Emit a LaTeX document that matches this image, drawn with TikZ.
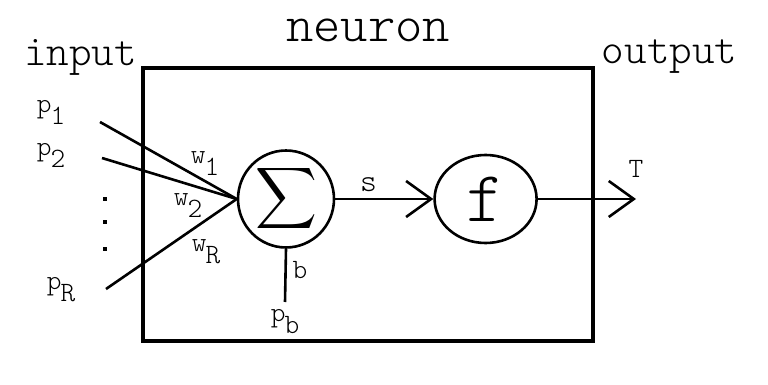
\documentclass[tikz,border=0pt]{standalone}
\usepackage{fontspec}
\setmonofont{Latin Modern Mono Light}
\usetikzlibrary{arrows.meta,positioning,shapes.geometric}
\newcommand{\lowidx}[1]{\kern-1pt\raisebox{-12pt}{#1}}

\begin{document}
\begin{tikzpicture}[
    x=1pt, y=-1pt,
    font=\ttfamily,
    unit/.style={
        ellipse,
        draw=black,
        line width=2.6pt,
        inner sep=0pt
    },
    wire/.style={line width=2.6pt, draw=black},
    arrow/.style={wire, -{Straight Barb[length=25pt,width=36pt,line width=2.6pt]}},
    label/.style={inner sep=0pt, font=\ttfamily\fontsize{28}{28}\selectfont},
    heading/.style={inner sep=0pt, font=\ttfamily\fontsize{43}{43}\selectfont},
    dot/.style={fill=black, inner sep=0pt, minimum size=3.5pt}
]
\useasboundingbox (0,0) rectangle (768,385);

% Neuron frame
\node[draw=black, line width=3.5pt, minimum width=450pt, minimum height=273pt,
    inner sep=0pt] (neuronbox) at (368,204.5) {};

\node[heading, font=\ttfamily\fontsize{52}{52}\selectfont, above=24pt of neuronbox]
    (title) {neuron};
\node[heading, anchor=base east, xshift=-4pt, yshift=1pt] (input)
    at (neuronbox.north west) {input};
\node[heading, anchor=base west, xshift=7pt, yshift=3pt] (output)
    at (neuronbox.north east) {output};

% Summation and activation units
\node[unit, minimum width=96pt, minimum height=80pt] (sum) at (286,199)
    {\resizebox{!}{45pt}{$\displaystyle\sum$}};
\node[unit, minimum width=102pt, minimum height=88pt, right=98pt of sum] (act)
    {\fontsize{72}{72}\selectfont f};

% Inputs
\coordinate (in1) at (100,122);
\coordinate (in2) at (102,158);
\coordinate (inR) at (106,289);
\coordinate (pbend) at (285,302);
\coordinate (outT) at (636,199);

\node[label] (p1) at (51,112) {p\lowidx{1}};
\node[label] (p2) at (51,155) {p\lowidx{2}};
\node[label] (pR) at (61,290) {p\lowidx{R}};
\foreach \y in {199,222,249}
    \node[dot] at (105,\y) {};

\draw[wire] (in1) -- (sum.west);
\draw[wire] (in2) -- (sum.west);
\draw[wire] (inR) -- (sum.west);

\node[label] (w1) at (205,164) {w\lowidx{1}};
\node[label] (w2) at (188,206) {w\lowidx{2}};
\node[label] (wR) at (206,252) {w\lowidx{R}};

% Bias
\draw[wire] (sum.south) -- (pbend);
\node[label] (b) at (300,270) {b};
\node[label, below=7pt of pbend] (pb) {p\lowidx{b}};

% Signal flow
\draw[arrow] (sum.east) -- node[label, font=\ttfamily\fontsize{32}{32}\selectfont,
    pos=0.34, above=6pt] (s) {s} (act.west);
\draw[arrow] (act.east) -- (outT);
\node[label, above=21pt of outT] (T) {T};

\end{tikzpicture}
\end{document}
